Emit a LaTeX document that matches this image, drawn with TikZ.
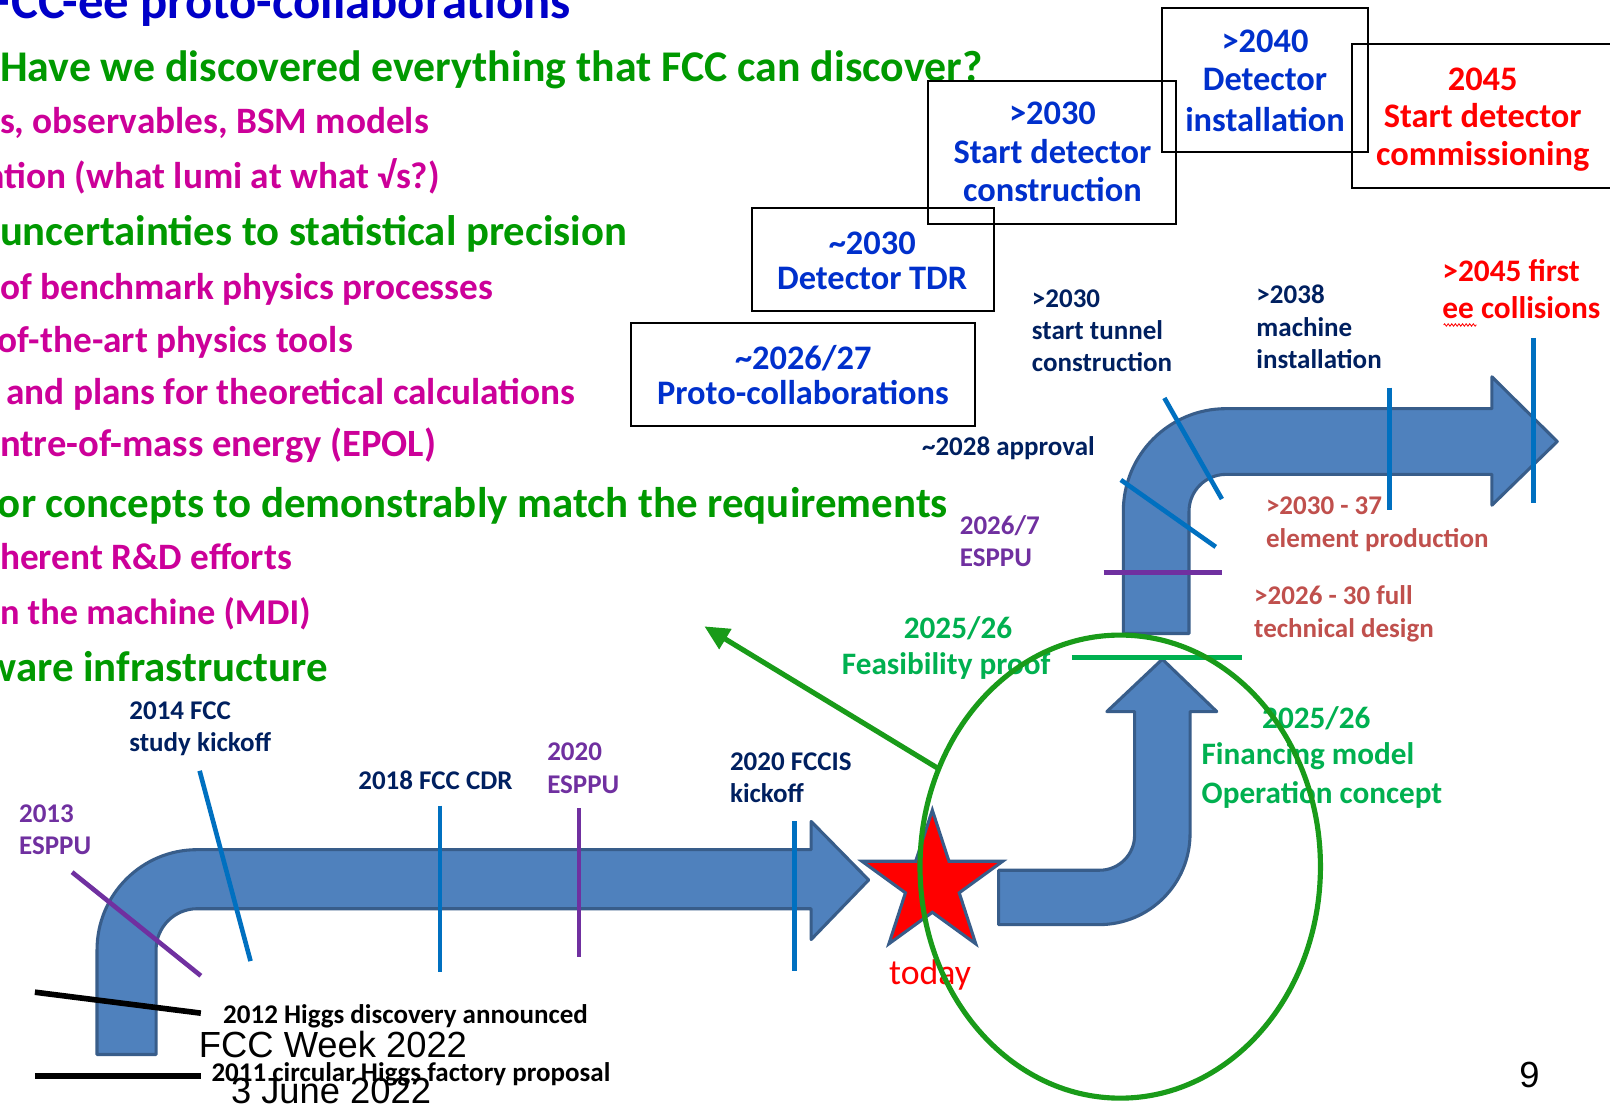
\documentclass[tikz,border=0pt]{standalone}
\usepackage{fontspec}
\setmainfont{Carlito}
\newfontfamily\arialf{Liberation Sans}
\usetikzlibrary{arrows.meta,decorations.pathmorphing}
\definecolor{ttlblue}{RGB}{0,0,200}
\definecolor{bgreen}{RGB}{0,153,0}
\definecolor{magen}{RGB}{204,0,153}
\definecolor{boxblue}{RGB}{0,48,204}
\definecolor{navy}{RGB}{0,32,96}
\definecolor{purp}{RGB}{112,48,160}
\definecolor{lgreen}{RGB}{0,176,80}
\definecolor{brred}{RGB}{192,80,77}
\definecolor{pred}{RGB}{255,0,0}
\definecolor{arrfill}{RGB}{79,129,189}
\definecolor{arrdraw}{RGB}{56,93,138}
\definecolor{lblue}{RGB}{0,112,192}
\definecolor{egreen}{RGB}{25,155,25}
\newcommand\fsz[2]{\fontsize{#1}{#2}\selectfont}
\begin{document}
\begin{tikzpicture}[x=1pt,y=-1pt,
  every node/.style={inner sep=0pt, outer sep=0pt},
  big/.style={font=\fsz{42}{50}\bfseries, text=bgreen, anchor=base west},
  mag/.style={font=\fsz{36.3}{42}\bfseries, text=magen, anchor=base west},
  lbl/.style={font=\fsz{26.3}{31.6}\bfseries, anchor=base west, align=left},
  glbl/.style={font=\fsz{30.4}{38.3}\bfseries, text=lgreen},
  boxt/.style={font=\fsz{33.5}{38}\bfseries, text=boxblue, anchor=base},
  frame/.style={draw=black, line width=2pt, anchor=north west},
  tl/.style={line width=4.5pt, draw=lblue},
  pl/.style={line width=4.5pt, draw=purp},
  bl/.style={line width=5.5pt, draw=black},
  bigarrow/.style={fill=arrfill, draw=arrdraw, line width=3pt, line join=round},
]
\useasboundingbox[fill=white] (0,0) rectangle (1568,1079);

% ---------- left text ----------
\node[font=\fsz{49.4}{56}\bfseries, text=ttlblue, anchor=base west] (t1) at (-11,17.9) {FCC-ee proto-collaborations};
\node[big, font=\fsz{42.7}{50}\bfseries] (t2) at (0,79.5) {Have we discovered everything that FCC can discover?};
\node[mag] (t3) at (0,130.5) {s, observables, BSM models};
\node[mag] (t4) at (-13,183.4) {ation (what lumi at what √s?)};
\node[big, font=\fsz{41.6}{50}\bfseries] (t5) at (0,239.5) {uncertainties to statistical precision};
\node[mag] (t6) at (0,292) {of benchmark physics processes};
\node[mag] (t7) at (-2,343.4) {of-the-art physics tools};
\node[mag] (t8) at (6,394.4) {and plans for theoretical calculations};
\node[mag, font=\fsz{37.6}{42}\bfseries] (t9) at (0,444.7) {ntre-of-mass energy (EPOL)};
\node[big, font=\fsz{41.8}{50}\bfseries] (t10) at (-2,503.7) {or concepts to demonstrably match the requirements};
\node[mag] (t11) at (0,555) {herent R\&D efforts};
\node[mag, font=\fsz{35.4}{42}\bfseries] (t12) at (0,608.6) {n the machine (MDI)};
\node[big, font=\fsz{41.8}{50}\bfseries] (t13) at (-15,663.7) {ware infrastructure};

% ---------- boxes ----------
\node[frame, minimum width=335.3pt, minimum height=100pt] (boxA) at (614.6,314.8) {};
\node[frame, minimum width=235.6pt, minimum height=99.9pt] (boxB) at (732.3,202.9) {};
\node[frame, minimum width=241.8pt, minimum height=139.5pt] (boxC) at (903.8,78.6) {};
\node[frame, minimum width=200.9pt, minimum height=139.6pt] (boxD) at (1131.5,8.1) {};
\node[frame, minimum width=280pt, minimum height=139.5pt] (boxE) at (1317.1,43.2) {};

\node[boxt] (a1) at (782.3,360) {\textasciitilde2026/27};
\node[boxt] (a2) at (782,394.4) {Proto-collaborations};
\node[boxt] (b1) at (849.5,247.5) {\textasciitilde2030};
\node[boxt] (b2) at (849.5,282.4) {Detector TDR};
\node[boxt] (c1) at (1025,121.5) {>2030};
\node[boxt] (c2) at (1025,159) {Start detector};
\node[boxt] (c3) at (1025,196.4) {construction};
\node[boxt] (d1) at (1232,51.5) {>2040};
\node[boxt] (d2) at (1232,88) {Detector};
\node[boxt] (d3) at (1232,128.2) {installation};
\node[boxt, text=pred] (e1) at (1444,88.5) {2045};
\node[boxt, text=pred] (e2) at (1444,124) {Start detector};
\node[boxt, text=pred] (e3) at (1444,160.7) {commissioning};

% ---------- big arrows ----------
\path[bigarrow] (94.5,1027) -- (94.5,925) arc[start angle=180,end angle=270,radius=97.5]
  -- (790,827.5) -- (790,800) -- (846,857) -- (790,915) -- (790,885) -- (192,885)
  arc[start angle=270,end angle=180,radius=40] -- (152,1027) -- cycle;
\path[bigarrow] (972.6,847.5) -- (1071,847.5) arc[start angle=90,end angle=0,radius=34]
  -- (1105,693) -- (1078,693) -- (1132,642) -- (1185,693) -- (1159,693) -- (1159,812)
  arc[start angle=0,end angle=90,radius=88.5] -- (972.6,900.5) -- cycle;
\path[bigarrow] (1094,617) -- (1094,498) arc[start angle=180,end angle=270,radius=100]
  -- (1453,398) -- (1453,367) -- (1516.6,430) -- (1453,492) -- (1453,462) -- (1194,462)
  arc[start angle=270,end angle=180,radius=36] -- (1158,617) -- cycle;

% star
\path[fill=pred, draw=arrdraw, line width=3pt, line join=miter]
  (908,789) -- (924.2,838.8) -- (976.5,838.8) -- (934.2,869.5) -- (950.3,919.2)
  -- (908,888.5) -- (865.7,919.2) -- (881.8,869.5) -- (839.5,838.8) -- (891.8,838.8) -- cycle;

% ---------- tick lines ----------
\draw[pl] (70.2,849.4) -- (195.6,950.3);
\draw[tl] (194.4,750.7) -- (244,936);
\draw[tl] (428.5,784.5) -- (428.5,947);
\draw[pl] (564,787) -- (564,932.5);
\draw[tl] (773.7,800) -- (773.7,946);
\draw[bl] (34,966.3) -- (195.6,986.7);
\draw[bl] (34,1047.7) -- (195.6,1047.7);
\draw[tl] (1134,387.6) -- (1190,486);
\draw[tl] (1091.6,467.4) -- (1184,532.6);
\draw[tl] (1353.5,377.5) -- (1353.5,496.6);
\draw[tl] (1493.7,329) -- (1493.7,490);
\draw[pl] (1074.7,557.6) -- (1190,557.6);
\draw[line width=5pt, draw=lgreen] (1044,640.4) -- (1210,640.4);

% ---------- labels (base = last line) ----------
\node[lbl, text=navy] (l2014) at (126,732) {2014 FCC\\study kickoff};
\node[lbl, text=purp] (l2013) at (18.6,832.5) {2013\\ESPPU};
\node[lbl, text=navy] (l2018) at (349,769.2) {2018 FCC CDR};
\node[lbl, text=purp] (l2020) at (533,772.5) {2020\\ESPPU};
\node[lbl, text=navy] (l2020b) at (711,782) {2020 FCCIS\\kickoff};
\node[lbl, text=black] (l2012) at (217.4,996.4) {2012 Higgs discovery announced};
\node[lbl, text=black] (l2011) at (206,1053) {2011 circular Higgs factory proposal};
\node[font=\fsz{35.4}{42}\arialf, anchor=base west] (fw) at (193.8,1030) {FCC Week 2022};
\node[font=\fsz{35.4}{42}\arialf, anchor=base west] (jd) at (225,1074.3) {3 June 2022};
\node[font=\fsz{35.4}{42}\arialf, anchor=base west] (pg) at (1479.6,1059) {9};
\node[font=\fsz{34.8}{40}, text=pred, anchor=base west] (today) at (866,958.5) {today};

\node[lbl, text=navy] (lapp) at (898,444) {\textasciitilde2028 approval};
\node[lbl, text=purp] (l2026) at (934.8,552) {2026/7\\ESPPU};
\node[glbl, anchor=base] (f1) at (933,621.5) {2025/26};
\node[glbl, anchor=base] (f2) at (921.5,657) {Feasibility proof};
\node[lbl, text=brred] (elp) at (1233,533) {>2030 - 37\\element production};
\node[lbl, text=brred] (ftd) at (1221.5,620.6) {>2026 - 30 full\\technical design};
\node[glbl, anchor=base] (g1) at (1282,709.5) {2025/26};
\node[glbl, anchor=base west, align=left] (g2) at (1170.3,783) {Financing model\\Operation concept};
\node[lbl, text=navy, font=\fsz{26.3}{31.4}\bfseries] (tun) at (1005,362) {>2030\\start tunnel\\construction};
\node[lbl, text=navy, font=\fsz{26.3}{31.3}\bfseries] (mach) at (1223.7,358.6) {>2038\\machine\\installation};
\node[lbl, text=pred, font=\fsz{30.5}{35.8}\bfseries] (first) at (1404.8,310) {>2045 first\\ee collisions};
\draw[pred, line width=0.8pt, decorate, decoration={zigzag, segment length=3.5pt, amplitude=1.2pt}] (1406,316.5) -- (1438,316.5);

% ---------- green ellipse and arrow ----------
\draw[egreen, line width=5pt] (1091,844) ellipse [x radius=195, y radius=225.5];
\coordinate (gaS) at (913,748);
\coordinate (gaE) at (686,610);
\draw[egreen, line width=5pt, -{Triangle[length=24pt,width=22pt]}] (gaS) -- (gaE);
\end{tikzpicture}
\end{document}
